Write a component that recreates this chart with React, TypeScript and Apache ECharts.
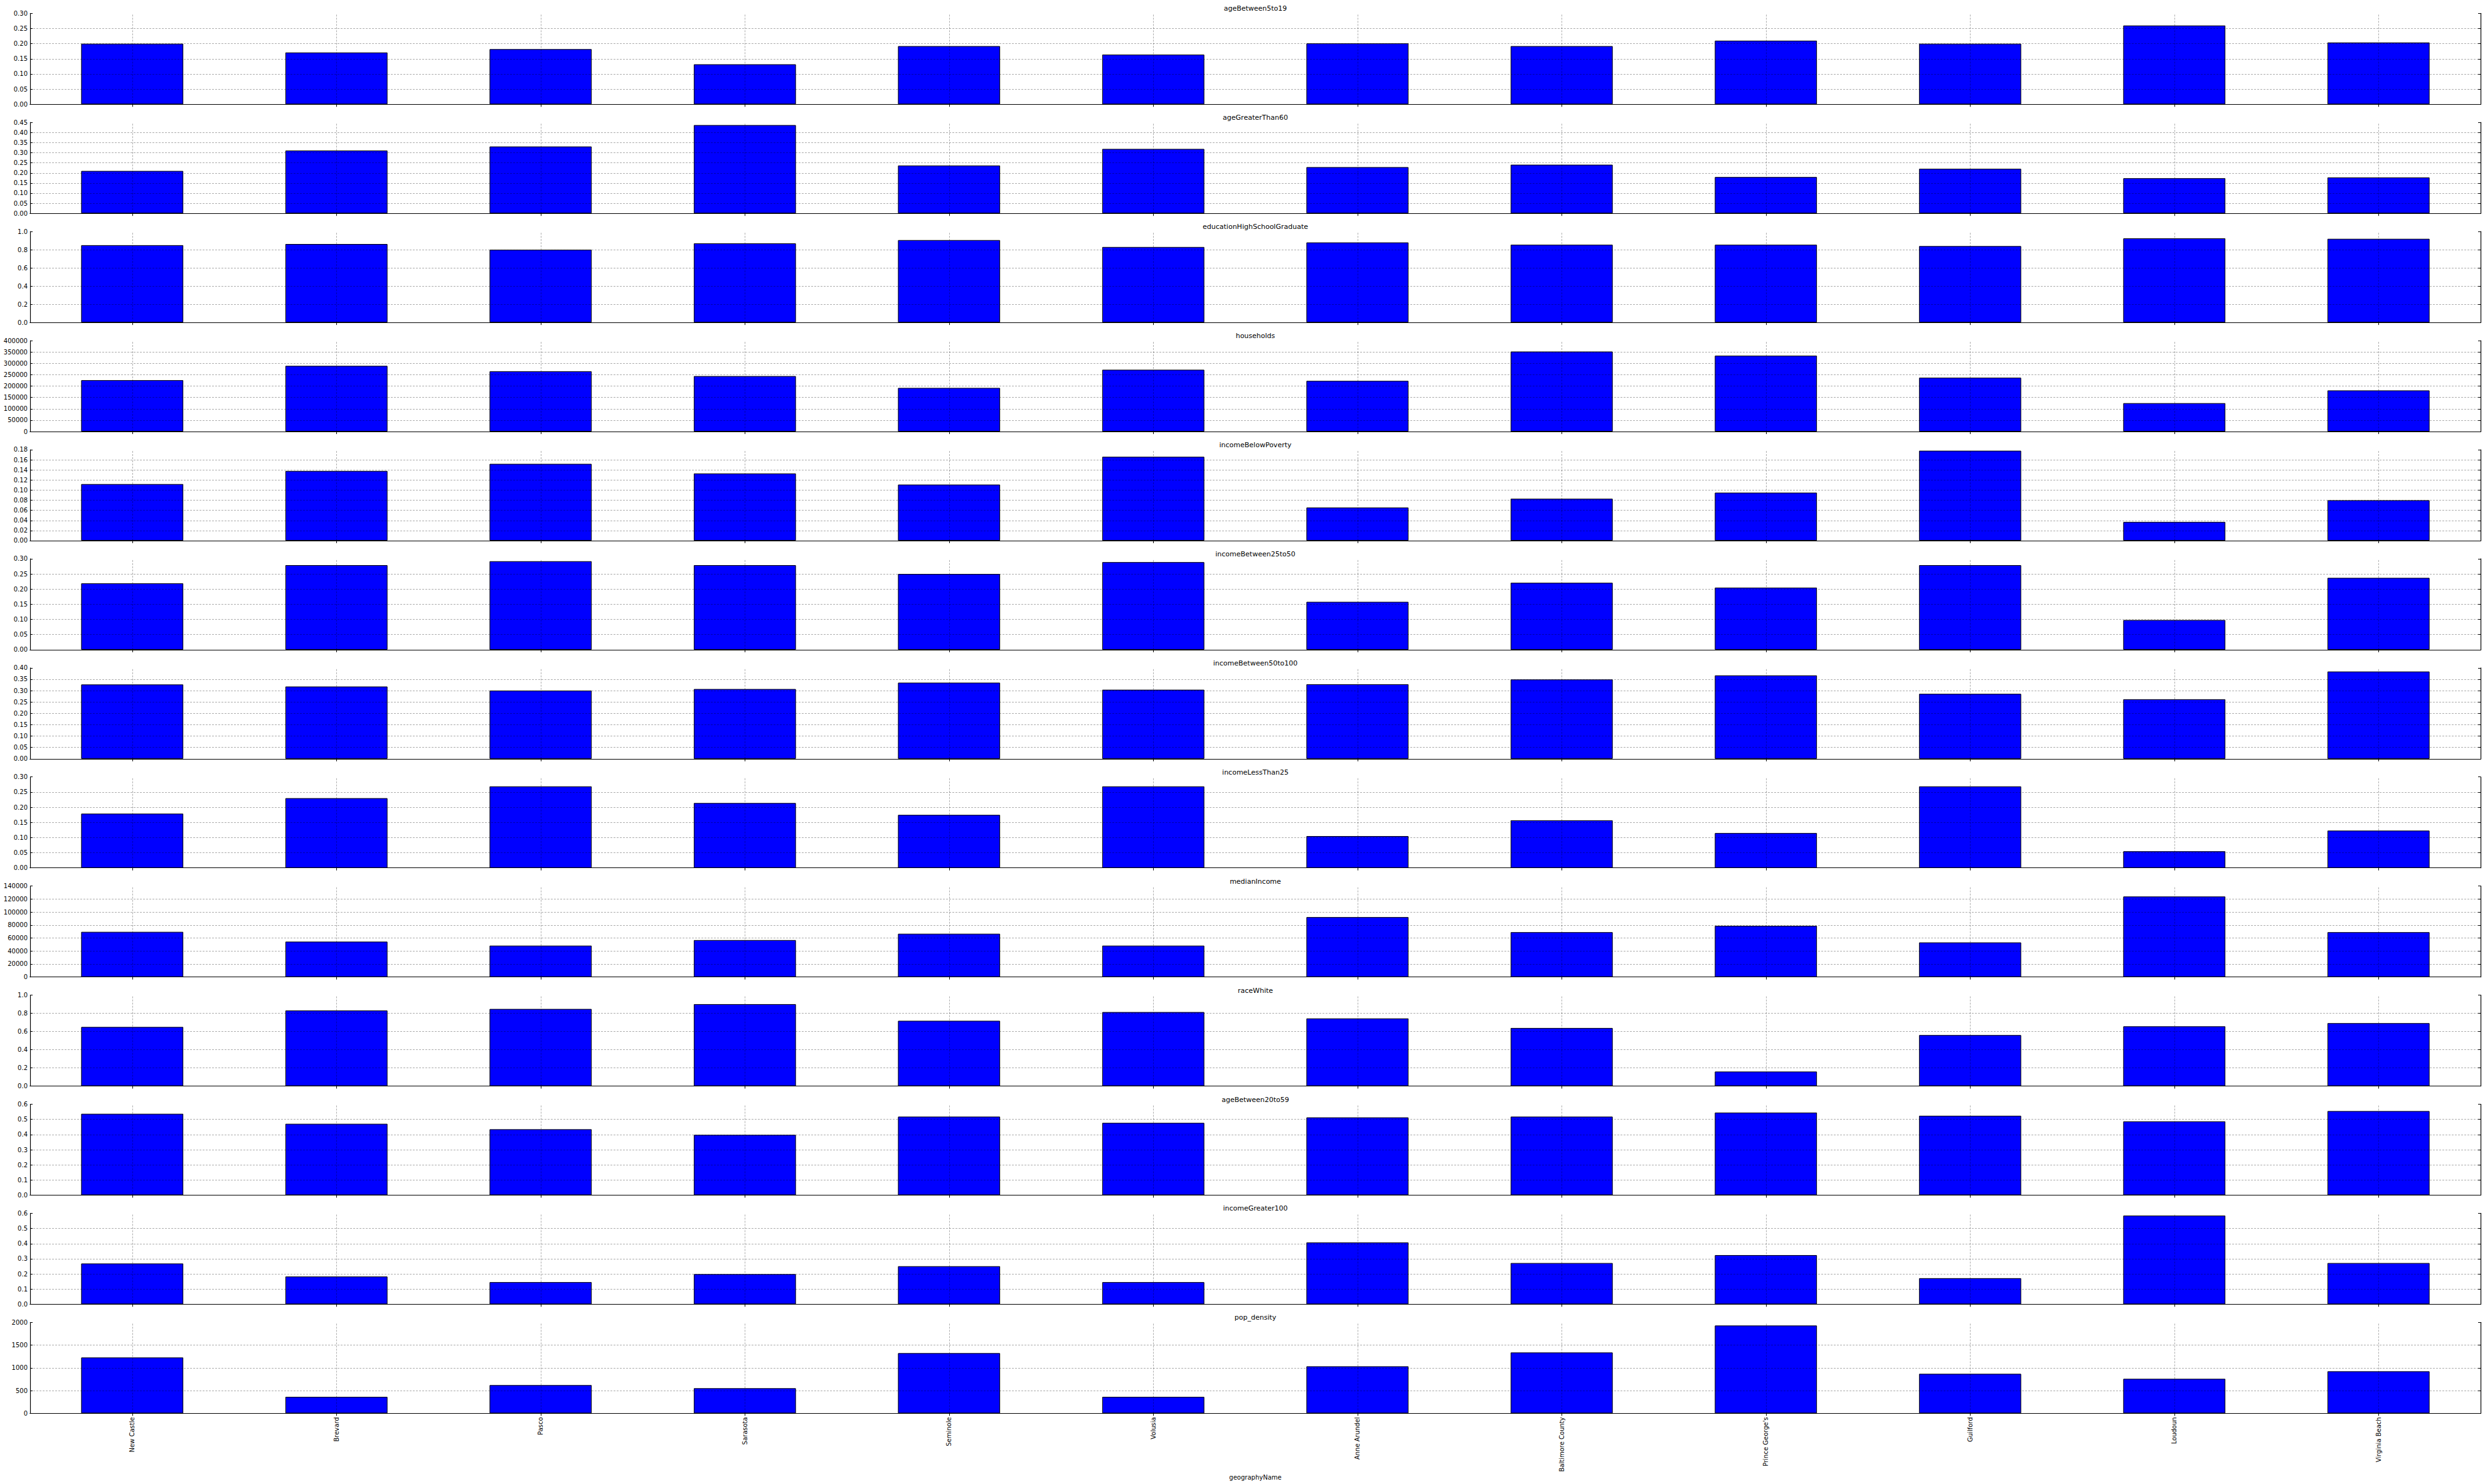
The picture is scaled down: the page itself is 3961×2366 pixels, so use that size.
import React, { useEffect, useRef } from "react";
import * as echarts from "echarts";

const categories = [
  "New Castle", "Brevard", "Pasco", "Sarasota", "Seminole", "Volusia",
  "Anne Arundel", "Baltimore County", "Prince George's", "Guilford", "Loudoun", "Virginia Beach",
];

const ageBetween5to19 = [0.200, 0.171, 0.182, 0.132, 0.192, 0.164, 0.201, 0.192, 0.210, 0.200, 0.260, 0.204];
const ageGreaterThan60 = [0.210, 0.311, 0.331, 0.437, 0.237, 0.319, 0.229, 0.241, 0.180, 0.221, 0.174, 0.178];
const educationHighSchoolGraduate = [0.850, 0.863, 0.800, 0.870, 0.906, 0.830, 0.880, 0.855, 0.855, 0.840, 0.925, 0.920];
const households = [226000, 289000, 265000, 244000, 192000, 272000, 223000, 352000, 334000, 237000, 125000, 181000];
const incomeBelowPoverty = [0.112, 0.138, 0.152, 0.133, 0.111, 0.166, 0.0655, 0.083, 0.095, 0.178, 0.037, 0.080];
const incomeBetween25to50 = [0.219, 0.279, 0.292, 0.279, 0.250, 0.289, 0.158, 0.221, 0.205, 0.279, 0.098, 0.237];
const incomeBetween50to100 = [0.327, 0.318, 0.300, 0.307, 0.335, 0.304, 0.328, 0.349, 0.367, 0.286, 0.262, 0.384];
const incomeLessThan25 = [0.179, 0.230, 0.269, 0.214, 0.175, 0.269, 0.105, 0.157, 0.115, 0.269, 0.055, 0.123];
const medianIncome = [69500, 54400, 48300, 56800, 66600, 48300, 92200, 69000, 78800, 53200, 123900, 69000];
const raceWhite = [0.650, 0.831, 0.848, 0.901, 0.718, 0.814, 0.744, 0.639, 0.160, 0.561, 0.657, 0.692];
const ageBetween20to59 = [0.537, 0.471, 0.435, 0.398, 0.518, 0.477, 0.513, 0.518, 0.545, 0.524, 0.487, 0.555];
const incomeGreater100 = [0.269, 0.183, 0.146, 0.199, 0.251, 0.146, 0.408, 0.272, 0.324, 0.172, 0.585, 0.272];
const popDensity = [1228, 363, 621, 552, 1324, 363, 1034, 1338, 1931, 869, 759, 924];

const panelTitles = [
  "ageBetween5to19", "ageGreaterThan60", "educationHighSchoolGraduate", "households",
  "incomeBelowPoverty", "incomeBetween25to50", "incomeBetween50to100", "incomeLessThan25",
  "medianIncome", "raceWhite", "ageBetween20to59", "incomeGreater100", "pop_density",
];
const panelValues = [
  ageBetween5to19, ageGreaterThan60, educationHighSchoolGraduate, households,
  incomeBelowPoverty, incomeBetween25to50, incomeBetween50to100, incomeLessThan25,
  medianIncome, raceWhite, ageBetween20to59, incomeGreater100, popDensity,
];
const yMax = [0.30, 0.45, 1.0, 400000, 0.18, 0.30, 0.40, 0.30, 140000, 1.0, 0.6, 0.6, 2000];
const yInterval = [0.05, 0.05, 0.2, 50000, 0.02, 0.05, 0.05, 0.05, 20000, 0.2, 0.1, 0.1, 500];
const yDecimals = [2, 2, 1, 0, 2, 2, 2, 2, 0, 1, 1, 1, 0];
const xAxisLabel = "geographyName";

const W = 3961;
const H = 2366;
const PLOT_LEFT = 48;
const PLOT_RIGHT = 3954;
const TOP0 = 21.3;
const STEP = 173.92;
const PLOT_H = 145;
const FONT = '"DejaVu Sans", sans-serif';
const GRID_COLOR = "rgba(0,0,0,0.32)";

export default function App() {
  const ref = useRef<HTMLDivElement>(null);

  useEffect(() => {
    if (!ref.current) return;
    const chart = echarts.init(ref.current, null, { renderer: "svg" });
    const n = panelTitles.length;
    const grids: any[] = [];
    const xAxes: any[] = [];
    const yAxes: any[] = [];
    const series: any[] = [];
    const graphics: any[] = [];
    const centerX = (PLOT_LEFT + PLOT_RIGHT) / 2;

    for (let i = 0; i < n; i++) {
      const top = TOP0 + STEP * i;
      grids.push({
        left: PLOT_LEFT,
        top,
        width: PLOT_RIGHT - PLOT_LEFT,
        height: PLOT_H,
        containLabel: false,
      });
      const isLast = i === n - 1;
      // bottom x axis
      xAxes.push({
        type: "category",
        gridIndex: i,
        position: "bottom",
        data: categories,
        boundaryGap: true,
        axisLine: { show: true, lineStyle: { color: "#000", width: 1.2 } },
        axisTick: { show: true, inside: true, length: 4, alignWithLabel: true, lineStyle: { color: "#000" } },
        axisLabel: {
          show: isLast,
          rotate: 90,
          interval: 0,
          margin: 6,
          fontFamily: FONT,
          fontSize: 10,
          color: "#000",
        },
        splitLine: { show: false },
      });
      // top x axis (frame + ticks)
      xAxes.push({
        type: "category",
        gridIndex: i,
        position: "top",
        data: categories,
        boundaryGap: true,
        axisLine: { show: true, lineStyle: { color: "#000", width: 1.2 } },
        axisTick: { show: true, inside: true, length: 4, alignWithLabel: true, lineStyle: { color: "#000" } },
        axisLabel: { show: false },
        splitLine: { show: false },
      });
      const dec = yDecimals[i];
      const yCommon = {
        type: "value",
        gridIndex: i,
        min: 0,
        max: yMax[i],
        interval: yInterval[i],
        axisLine: { show: true, lineStyle: { color: "#000", width: 1.2 } },
        axisTick: { show: true, inside: true, length: 4, lineStyle: { color: "#000" } },
        splitLine: { show: false },
      };
      yAxes.push({
        ...yCommon,
        position: "left",
        axisLabel: {
          show: true,
          margin: 4,
          fontFamily: FONT,
          fontSize: 10,
          color: "#000",
          showMinLabel: true,
          showMaxLabel: true,
          formatter: (v: number) => v.toFixed(dec),
        },
      });
      yAxes.push({
        ...yCommon,
        position: "right",
        axisLabel: { show: false },
      });

      const ticks: number[] = [];
      const nt = Math.round(yMax[i] / yInterval[i]);
      for (let k = 1; k < nt; k++) ticks.push(k * yInterval[i]);

      series.push({
        type: "bar",
        xAxisIndex: 2 * i,
        yAxisIndex: 2 * i,
        data: panelValues[i],
        barWidth: "50%",
        itemStyle: { color: "#0000ff", borderColor: "#000", borderWidth: 1 },
        emphasis: { disabled: true },
        markLine: {
          silent: true,
          symbol: ["none", "none"],
          label: { show: false },
          emphasis: { disabled: true },
          lineStyle: { color: GRID_COLOR, type: [3, 2], width: 1 },
          data: [
            ...categories.map((c) => ({ xAxis: c })),
            ...ticks.map((t) => ({ yAxis: t })),
          ],
        },
      });

      graphics.push({
        type: "text",
        x: centerX,
        y: top - 2,
        style: {
          text: panelTitles[i],
          font: `11px ${FONT}`,
          fill: "#000",
          textAlign: "center",
          textVerticalAlign: "bottom",
        },
      });
    }

    graphics.push({
      type: "text",
      x: centerX,
      y: 2355,
      style: {
        text: xAxisLabel,
        font: `10px ${FONT}`,
        fill: "#000",
        textAlign: "center",
        textVerticalAlign: "middle",
      },
    });

    chart.setOption({
      animation: false,
      backgroundColor: "#ffffff",
      grid: grids,
      xAxis: xAxes,
      yAxis: yAxes,
      series,
      graphic: graphics,
    });

    return () => {
      chart.dispose();
    };
  }, []);

  return (
    <div
      ref={ref}
      style={{ position: "absolute", left: 0, top: 0, width: W, height: H, background: "#fff" }}
    />
  );
}
